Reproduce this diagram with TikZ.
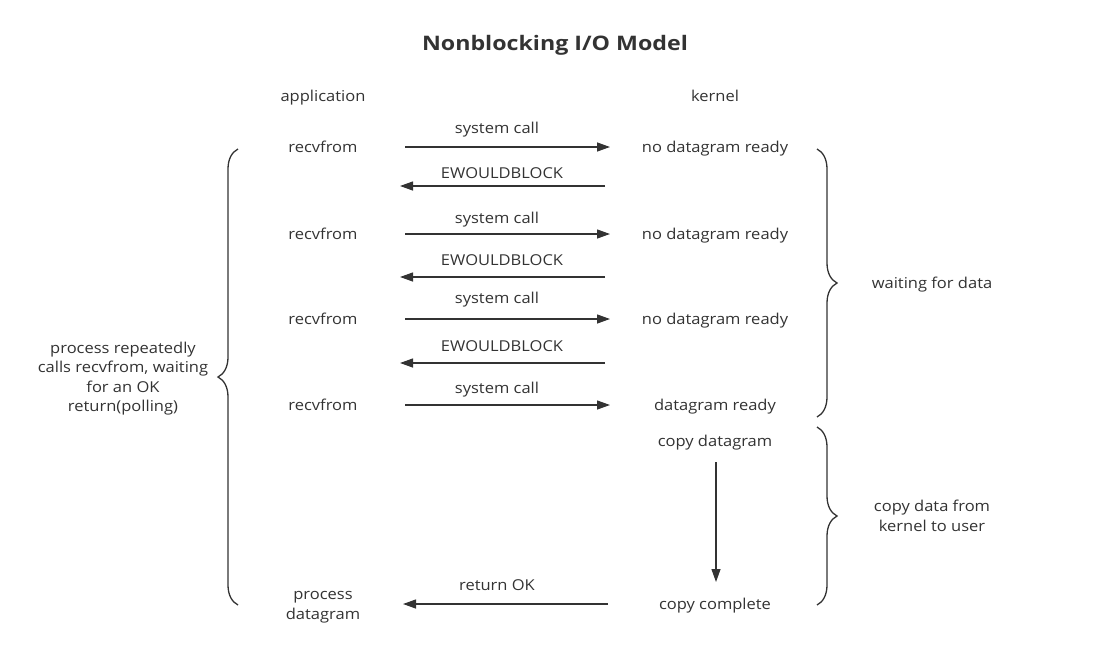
\documentclass[tikz,border=0pt]{standalone}
\usepackage{fontspec}
\setmainfont{Open Sans}[FakeStretch=1.1]
\newfontfamily\titlefont{Open Sans}[FakeStretch=1.16]
\usetikzlibrary{arrows.meta,decorations.pathreplacing}
\definecolor{ink}{HTML}{333333}

\begin{document}
\begin{tikzpicture}[x=1pt, y=-1pt,
    lbl/.style={text=ink, font=\fontsize{15}{19.5}\selectfont, align=center, inner sep=0pt, text height=11pt, text depth=0pt},
    mlbl/.style={text=ink, font=\fontsize{15}{19.5}\selectfont, align=center, inner sep=0pt},
    arr/.style={-{Triangle[length=13pt,width=9pt]}, line width=1.3pt, draw=ink},
    brc/.style={decorate, decoration={brace, amplitude=20pt}, line width=1.3pt, draw=ink}
]
    \useasboundingbox (0,0) rectangle (1100,662);

    % Header
    \node[text=ink, font=\titlefont\bfseries\fontsize{20}{24}\selectfont, inner sep=0pt, text height=14pt, text depth=0pt] (title) at (555,43) {Nonblocking I/O Model};
    \node[lbl] (app) at (323,96) {application};
    \node[lbl] (ker) at (715,96) {kernel};

    % Call 1
    \node[lbl] (r1) at (323,147) {recvfrom};
    \node[lbl] (k1) at (715,147) {no datagram ready};
    \coordinate (s1) at (405,147); \coordinate (e1) at (610,147);
    \node[lbl] (c1) at (497,128) {system call};
    \draw[arr] (s1) -- (e1);
    \coordinate (s1b) at (605,186); \coordinate (e1b) at (400,186);
    \node[lbl] (w1) at (502,173) {EWOULDBLOCK};
    \draw[arr] (s1b) -- (e1b);

    % Call 2
    \node[lbl] (r2) at (323,234) {recvfrom};
    \node[lbl] (k2) at (715,234) {no datagram ready};
    \coordinate (s2) at (405,234); \coordinate (e2) at (610,234);
    \node[lbl] (c2) at (497,218) {system call};
    \draw[arr] (s2) -- (e2);
    \coordinate (s2b) at (605,277); \coordinate (e2b) at (400,277);
    \node[lbl] (w2) at (502,260) {EWOULDBLOCK};
    \draw[arr] (s2b) -- (e2b);

    % Call 3
    \node[lbl] (r3) at (323,319) {recvfrom};
    \node[lbl] (k3) at (715,319) {no datagram ready};
    \coordinate (s3) at (405,319); \coordinate (e3) at (610,319);
    \node[lbl] (c3) at (497,298) {system call};
    \draw[arr] (s3) -- (e3);
    \coordinate (s3b) at (605,363); \coordinate (e3b) at (400,363);
    \node[lbl] (w3) at (502,346) {EWOULDBLOCK};
    \draw[arr] (s3b) -- (e3b);

    % Call 4
    \node[lbl] (r4) at (323,405) {recvfrom};
    \node[lbl] (k4) at (715,405) {datagram ready};
    \coordinate (s4) at (405,405); \coordinate (e4) at (610,405);
    \node[lbl] (c4) at (497,388) {system call};
    \draw[arr] (s4) -- (e4);

    % Copy
    \node[lbl] (cd) at (715,441) {copy datagram};
    \node[lbl] (cc) at (715,604) {copy complete};
    \coordinate (v1) at (716,462); \coordinate (v2) at (716,582);
    \draw[arr] (v1) -- (v2);

    % Return
    \node[mlbl] (pd) at (323,607) {process\\datagram};
    \coordinate (s5) at (608,604); \coordinate (e5) at (403,604);
    \node[lbl] (ok) at (497,585) {return OK};
    \draw[arr] (s5) -- (e5);

    % Braces
    \coordinate (lb1) at (238,605); \coordinate (lb2) at (238,149);
    \draw[brc] (lb1) -- (lb2);
    \node[mlbl] (poll) at (123,378.5) {process repeatedly\\calls recvfrom, waiting\\for an OK\\return(polling)};
    \coordinate (rb1) at (817,149); \coordinate (rb2) at (817,417);
    \draw[brc] (rb1) -- (rb2);
    \node[lbl] (wait) at (932,283) {waiting for data};
    \coordinate (rb3) at (817,427); \coordinate (rb4) at (817,605);
    \draw[brc] (rb3) -- (rb4);
    \node[mlbl] (copy) at (932,516) {copy data from\\kernel to user};
\end{tikzpicture}
\end{document}
